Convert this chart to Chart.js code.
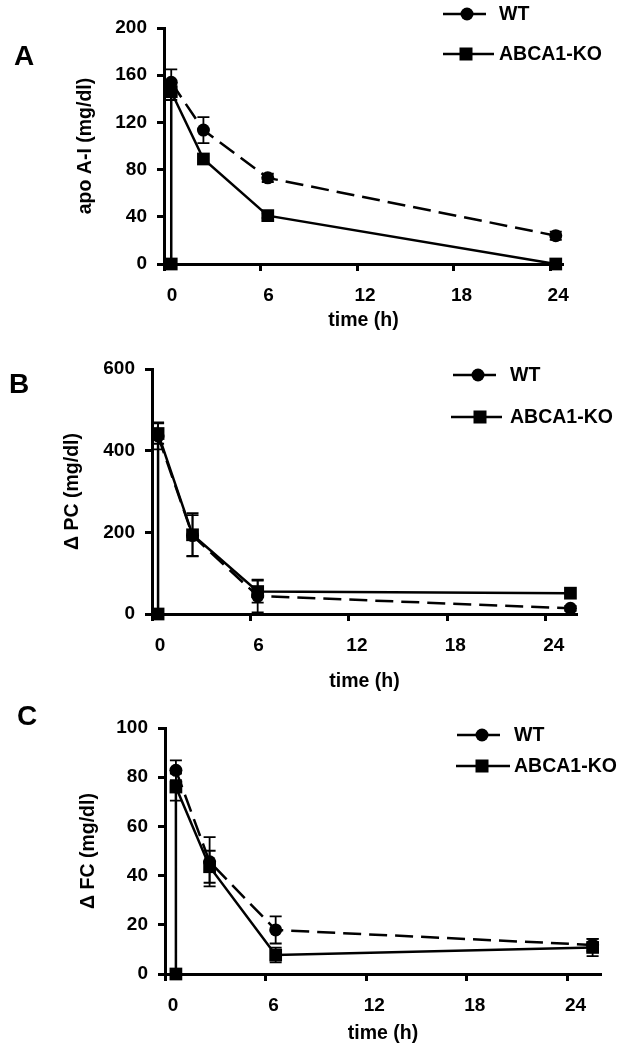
<!DOCTYPE html>
<html>
<head>
<meta charset="utf-8">
<script src="https://cdn.jsdelivr.net/npm/chart.js@4.4.1/dist/chart.umd.min.js"></script>
<style>
  html, body { margin: 0; padding: 0; background: #fff; }
  #wrap { position: relative; width: 619px; height: 1050px; }
  canvas { position: absolute; left: 0; }
</style>
</head>
<body>
<div id="wrap">
  <canvas id="panelA" width="619" height="340" style="top:0px"></canvas>
  <canvas id="panelB" width="619" height="360" style="top:340px"></canvas>
  <canvas id="panelC" width="619" height="350" style="top:700px"></canvas>
</div>
<script>
// ---- data ----
const xTicks = [0, 6, 12, 18, 24];
const seriesNames = ["WT", "ABCA1-KO"];

// A : apo A-I
const yTicksA = [0, 40, 80, 120, 160, 200];
const timeA = [0.45, 2.45, 6.45, 24.35];
const wtA = [154, 113.5, 73, 24];
const wtErrA = [11, 11, 3.5, 3.5];
const koTimeA = [0.45, 0.45, 2.45, 6.45, 24.35];
const koA = [0, 146, 89, 41, 0];
const koErrA = [0, 7, 0, 2, 0];

// B : delta PC
const yTicksB = [0, 200, 400, 600];
const timeB = [0.37, 2.47, 6.44, 25.5];
const wtB = [436, 192, 44, 14];
const wtErrB = [33, 50, 40, 6];
const koTimeB = [0.37, 0.37, 2.47, 6.44, 25.5];
const koB = [0, 442, 194, 55, 51];
const koErrB = [0, 25, 53, 27, 0];

// C : delta FC
const yTicksC = [0, 20, 40, 60, 80, 100];
const timeC = [0.65, 2.66, 6.6, 25.5];
const wtC = [82.8, 45.6, 17.9, 11.8];
const wtErrC = [4, 10, 5.5, 2.5];
const koTimeC = [0.65, 0.65, 2.66, 6.6, 25.5];
const koC = [0, 76, 43.6, 7.7, 10.8];
const koErrC = [0, 5.5, 6.5, 3, 3.5];

Chart.defaults.font.family = "'Liberation Sans', Arial, sans-serif";
Chart.defaults.font.weight = "bold";
Chart.defaults.font.size = 19;
Chart.defaults.color = "#000";

// error bars, panel letter and legend
const extras = {
  id: "extras",
  beforeDatasetsDraw(chart) {
    const ctx = chart.ctx, xs = chart.scales.x, ys = chart.scales.y;
    ctx.save();
    ctx.strokeStyle = "#000";
    ctx.lineWidth = 1.8;
    chart.data.datasets.forEach(ds => {
      (ds.errors || []).forEach((e, i) => {
        if (!e) return;
        const p = ds.data[i];
        const x = xs.getPixelForValue(p.x);
        const y1 = ys.getPixelForValue(p.y - e);
        const y2 = ys.getPixelForValue(p.y + e);
        ctx.beginPath();
        ctx.moveTo(x, y1); ctx.lineTo(x, y2);
        ctx.moveTo(x - 6, y1); ctx.lineTo(x + 6, y1);
        ctx.moveTo(x - 6, y2); ctx.lineTo(x + 6, y2);
        ctx.stroke();
      });
    });
    ctx.restore();
  },
  afterDraw(chart) {
    const o = chart.options.plugins.extras;
    const ctx = chart.ctx;
    ctx.save();
    ctx.fillStyle = "#000";
    ctx.strokeStyle = "#000";
    ctx.font = "bold 28px 'Liberation Sans', Arial";
    ctx.textAlign = "center";
    ctx.textBaseline = "middle";
    ctx.fillText(o.letter, o.lx, o.ly);

    ctx.font = "bold 19.5px 'Liberation Sans', Arial";
    ctx.textAlign = "left";
    o.legend.forEach((it, i) => {
      ctx.lineWidth = 2.5;
      ctx.beginPath();
      ctx.moveTo(it.x1, it.y); ctx.lineTo(it.x2, it.y);
      ctx.stroke();
      ctx.beginPath();
      if (i === 0) {
        ctx.arc(it.mx, it.y, 6.5, 0, Math.PI * 2);
        ctx.fill();
      } else {
        ctx.fillRect(it.mx - 6.5, it.y - 6.5, 13, 13);
      }
      ctx.fillText(seriesNames[i], it.tx, it.y + 1);
    });
    ctx.restore();
  }
};

function makePanel(id, cfg) {
  const pts = (t, v) => t.map((x, i) => ({ x: x, y: v[i] }));
  new Chart(document.getElementById(id), {
    type: "line",
    data: {
      datasets: [
        {
          label: seriesNames[0],
          data: pts(cfg.wtTime, cfg.wt),
          errors: cfg.wtErr,
          borderColor: "#000",
          borderWidth: 2.5,
          borderDash: [18, 8],
          pointStyle: "circle",
          pointRadius: 6.5,
          pointBackgroundColor: "#000",
          pointBorderWidth: 0,
          clip: false
        },
        {
          label: seriesNames[1],
          data: pts(cfg.koTime, cfg.ko),
          errors: cfg.koErr,
          borderColor: "#000",
          borderWidth: 2.5,
          pointStyle: "rect",
          pointRadius: 9,
          pointBackgroundColor: "#000",
          pointBorderWidth: 0,
          clip: false
        }
      ]
    },
    options: {
      responsive: false,
      animation: false,
      devicePixelRatio: 1,
      layout: { padding: { left: 0, top: cfg.top, right: cfg.right, bottom: 0 } },
      plugins: {
        legend: { display: false },
        tooltip: { enabled: false },
        extras: cfg.extras
      },
      scales: {
        x: {
          type: "linear",
          min: 0,
          max: cfg.xMax,
          afterBuildTicks: s => { s.ticks = xTicks.map(v => ({ value: v })); },
          afterFit: s => { s.height = cfg.xHeight; },
          grid: { drawOnChartArea: false, drawTicks: true, tickLength: 7, tickWidth: 3, tickColor: "#000" },
          border: { display: true, color: "#000", width: 3 },
          ticks: { labelOffset: 8, padding: 13, maxRotation: 0, font: { size: 19, weight: "bold" } },
          title: {
            display: true,
            text: "time (h)",
            font: { size: 19.5, weight: "bold" },
            padding: { top: 0, bottom: cfg.xTitlePad }
          }
        },
        y: {
          min: cfg.yTicks[0],
          max: cfg.yTicks[cfg.yTicks.length - 1],
          afterBuildTicks: s => { s.ticks = cfg.yTicks.map(v => ({ value: v })); },
          afterFit: s => { s.width = cfg.yWidth; },
          grid: { drawOnChartArea: false, drawTicks: true, tickLength: 7, tickWidth: 3, tickColor: "#000" },
          border: { display: true, color: "#000", width: 3 },
          ticks: { padding: 10, font: { size: 19, weight: "bold" } },
          title: {
            display: true,
            text: cfg.yTitle,
            font: { size: 19.5, weight: "bold" },
            padding: { top: cfg.yTitlePad, bottom: 0 }
          }
        }
      }
    },
    plugins: [extras]
  });
}

makePanel("panelA", {
  wtTime: timeA, wt: wtA, wtErr: wtErrA,
  koTime: koTimeA, ko: koA, koErr: koErrA,
  yTicks: yTicksA, yTitle: "apo A-I (mg/dl)",
  xMax: 24.8, top: 28, right: 56, xHeight: 76, yWidth: 164,
  yTitlePad: 74, xTitlePad: 8,
  extras: {
    letter: "A", lx: 24, ly: 57,
    legend: [
      { y: 14, x1: 443, x2: 486, mx: 467, tx: 499 },
      { y: 54, x1: 443, x2: 494, mx: 466, tx: 499 }
    ]
  }
});

makePanel("panelB", {
  wtTime: timeB, wt: wtB, wtErr: wtErrB,
  koTime: koTimeB, ko: koB, koErr: koErrB,
  yTicks: yTicksB, yTitle: "\u0394 PC (mg/dl)",
  xMax: 25.9, top: 29, right: 42, xHeight: 86, yWidth: 152,
  yTitlePad: 61, xTitlePad: 6.5,
  extras: {
    letter: "B", lx: 19, ly: 45,
    legend: [
      { y: 35, x1: 453, x2: 496, mx: 478, tx: 510 },
      { y: 77, x1: 451, x2: 502, mx: 480, tx: 510 }
    ]
  }
});

makePanel("panelC", {
  wtTime: timeC, wt: wtC, wtErr: wtErrC,
  koTime: koTimeC, ko: koC, koErr: koErrC,
  yTicks: yTicksC, yTitle: "\u0394 FC (mg/dl)",
  xMax: 26.0, top: 28, right: 18, xHeight: 76, yWidth: 165,
  yTitlePad: 77, xTitlePad: 5,
  extras: {
    letter: "C", lx: 27, ly: 17,
    legend: [
      { y: 35, x1: 457, x2: 500, mx: 482, tx: 514 },
      { y: 66, x1: 456, x2: 510, mx: 482, tx: 514 }
    ]
  }
});
</script>
</body>
</html>
